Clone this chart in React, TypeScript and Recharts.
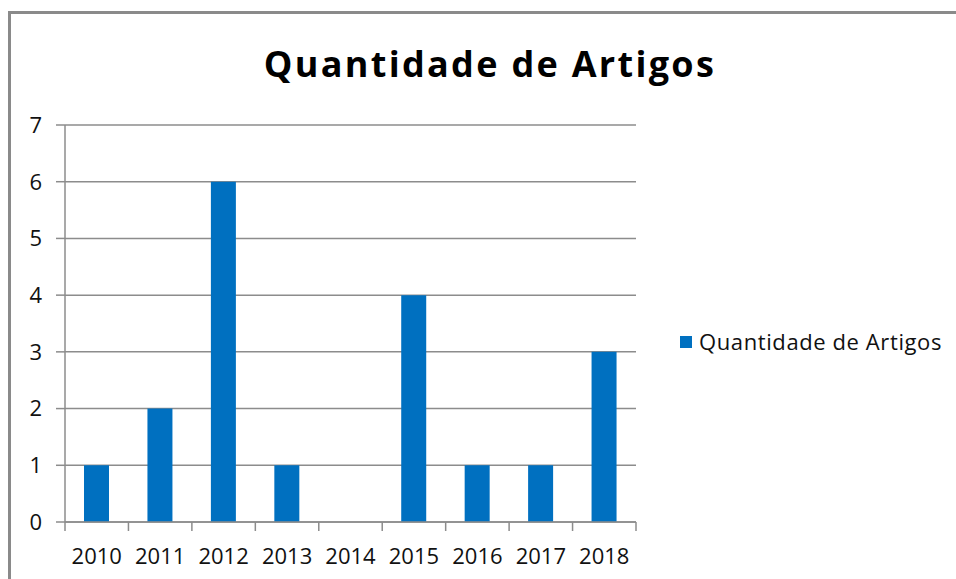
import { BarChart, Bar, XAxis, YAxis, CartesianGrid } from 'recharts'

const years = ['2010', '2011', '2012', '2013', '2014', '2015', '2016', '2017', '2018']
const counts = [1, 2, 6, 1, 0, 4, 1, 1, 3]
const yTicks = [0, 1, 2, 3, 4, 5, 6, 7]
const seriesName = 'Quantidade de Artigos'

const data = years.map((y, i) => ({ year: y, [seriesName]: counts[i] }))

const FONT = '"Open Sans", "Noto Sans", sans-serif'
const GRID = '#8c8c8c'
const BLUE = '#0070C0'

// plot spans x 65..636, so each category band is this wide
const BAND = (636 - 65) / years.length

// excel-style: tick marks sit between categories, labels in the middle
function YearTick(props: any) {
  const { x, y, payload, index } = props
  const half = BAND / 2
  return (
    <g>
      <line x1={x - half} x2={x - half} y1={y} y2={y + 9} stroke={GRID} strokeWidth={1.5} />
      {index === years.length - 1 && (
        <line x1={x + half} x2={x + half} y1={y} y2={y + 9} stroke={GRID} strokeWidth={1.5} />
      )}
      <text x={x} y={y + 42} textAnchor="middle" fill="#111" fontFamily={FONT} fontSize={22}>
        {payload.value}
      </text>
    </g>
  )
}

export default function App() {
  return (
    <div
      style={{
        position: 'absolute',
        left: 0,
        top: 0,
        width: 956,
        height: 579,
        overflow: 'hidden',
        background: '#fff',
      }}
    >
      {/* outer chart frame, right and bottom edges are cropped off */}
      <div
        style={{
          position: 'absolute',
          left: 8,
          top: 11,
          width: 1000,
          height: 620,
          border: '3px solid #8a8a8a',
        }}
      />
      <div
        style={{
          position: 'absolute',
          left: 0,
          width: 980,
          top: 39,
          textAlign: 'center',
          fontFamily: FONT,
          fontWeight: 700,
          fontSize: 36,
          letterSpacing: 2.3,
          lineHeight: 'normal',
          color: '#000',
        }}
      >
        {seriesName}
      </div>
      <BarChart
        width={956}
        height={579}
        data={data}
        margin={{ top: 125, right: 320, left: 10, bottom: 0 }}
        style={{ position: 'absolute', left: 0, top: 0 }}
      >
        <CartesianGrid vertical={false} stroke={GRID} strokeWidth={1.5} />
        <XAxis
          dataKey="year"
          height={57}
          axisLine={{ stroke: GRID, strokeWidth: 1.5 }}
          tickLine={false}
          tickSize={0}
          tickMargin={0}
          tick={<YearTick />}
          interval={0}
        />
        <YAxis
          width={55}
          domain={[0, 7]}
          ticks={yTicks}
          interval={0}
          axisLine={{ stroke: GRID, strokeWidth: 1.5 }}
          tickLine={{ stroke: GRID, strokeWidth: 1.5 }}
          tickSize={9}
          tickMargin={14}
          tick={{ fill: '#111', fontFamily: FONT, fontSize: 22 }}
        />
        <Bar dataKey={seriesName} fill={BLUE} barSize={25} isAnimationActive={false} />
      </BarChart>
      {/* legend */}
      <div style={{ position: 'absolute', left: 680, top: 336, width: 12, height: 12, background: BLUE }} />
      <div
        style={{
          position: 'absolute',
          left: 699,
          top: 326,
          fontFamily: FONT,
          fontSize: 22,
          letterSpacing: 0.6,
          lineHeight: 'normal',
          color: '#111',
          whiteSpace: 'nowrap',
        }}
      >
        {seriesName}
      </div>
    </div>
  )
}
